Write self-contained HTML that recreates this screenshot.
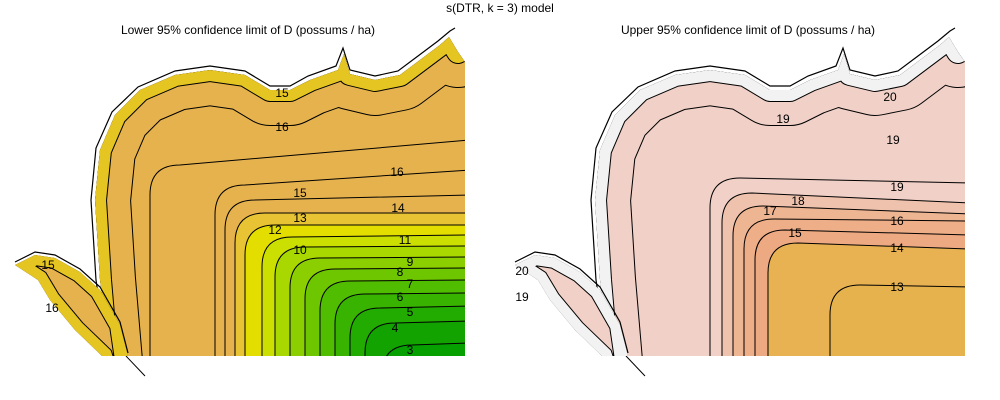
<!DOCTYPE html>
<html><head><meta charset="utf-8"><style>
html,body{margin:0;padding:0;background:#fff;}
svg{display:block;font-family:"Liberation Sans",sans-serif;}
</style></head><body>
<svg id="chart" width="1000" height="400" viewBox="0 0 1000 400" xmlns="http://www.w3.org/2000/svg">
<text x="500" y="12" font-size="12" text-anchor="middle" fill="#000">s(DTR, k = 3) model</text>
<text x="248" y="34" font-size="12" text-anchor="middle" fill="#000">Lower 95% confidence limit of D (possums / ha)</text>
<text x="748" y="34" font-size="12" text-anchor="middle" fill="#000">Upper 95% confidence limit of D (possums / ha)</text>
<g id="left"></g>
<g id="right"></g>
</svg>
<script>
// Left panel contour levels (L-shaped interior contours)
const leftLevels = [16, 15, 14, 13, 12, 11, 10, 9, 8, 7, 6, 5, 4, 3];
const leftBandColors = ["#e6b24e","#e6b24e","#e6b24e","#e8c435","#e4dd00","#cbe000","#a8d800","#8ccf00","#6ec600","#50bd00","#38b400","#22ab00","#12a300","#06a000"];
// contour geometry descriptors: [cornerX, cornerY, rightY]
const leftShape = [[150,165,140],[215,185,170],[225,200,195],[235,213,213],[245,225,225],[262,237,235],[275,247,246],[290,258,257],[305,269,268],[320,281,280],[335,294,293],[350,308,306],[365,323,321],[382,345,343]];
const leftLabelText = ["15","16","16","15","14","13","12","11","10","9","8","7","6","5","4","3"];
const leftLabelPos = [[282,93],[282,127],[397,172],[300,193],[398,208],[300,218],[275,230],[405,240],[300,250],[410,262],[400,272],[410,284],[400,297],[410,312],[395,328],[410,350],[48,265],[52,308]];
// Right panel
const rightLevels = [19, 18, 17, 16, 15, 14, 13];
const rightBandColors = ["#f0d0c7","#efc2ad","#eeb592","#eeae88","#eda982","#e8b252","#e6b24e"];
const rightShape = [[710,178,183],[722,193,203],[733,206,214],[744,219,221],[755,230,235],[768,243,249],[830,285,287]];
const rightLabelText = ["20","19","19","19","18","17","16","15","14","13"];
const rightLabelPos = [[890,97],[783,119],[893,140],[897,187],[798,201],[770,211],[897,221],[795,233],[897,248],[897,287],[522,271],[522,297]];

const NS="http://www.w3.org/2000/svg";
function mk(tag,attrs,parent){const e=document.createElementNS(NS,tag);for(const k in attrs)e.setAttribute(k,attrs[k]);parent.appendChild(e);return e;}
const outline=[[110,356],[100,280],[95,200],[100,150],[115,115],[140,90],[175,75],[210,70],[245,75],[270,90],[290,90],[310,80],[338,70],[344,54],[350,74],[375,80],[400,75],[420,60],[440,45],[449,37],[458,52],[465,62],[465,356]];
const edge=[[112,420],[100,280],[95,200],[100,150],[115,115],[140,90],[175,75],[210,70],[245,75],[270,90],[290,90],[310,80],[338,70],[344,54],[350,74],[375,80],[400,75],[420,60],[440,45],[449,37],[458,52],[475,40]];
const bord=[[107,356],[96,280],[91,200],[96,148],[112,112],[138,87],[175,71],[210,66],[245,71],[270,86],[290,86],[308,76],[336,66],[343,48],[350,70],[375,76],[398,71],[418,56],[438,41],[450,31],[455,28]];
const pen=[[15,265],[35,255],[55,258],[80,272],[100,290],[120,325],[128,356],[102,356],[75,330],[50,300],[38,280]];
const penEdge=[[128,380],[120,325],[100,290],[80,272],[55,258],[35,255],[15,265],[38,280],[50,300],[75,330],[102,356],[110,380]];
function pts(a,dx){return a.map(p=>(p[0]+dx)+","+p[1]).join(" ");}
function panel(g,dx,id,outerCol,fillCol,ringCol,shape,colors,labText,labPos,penFill){
  const defs=mk("defs",{},g);
  const cp=mk("clipPath",{id:"c"+id},defs);
  mk("polygon",{points:pts(outline,dx)},cp);
  const cp2=mk("clipPath",{id:"p"+id},defs);
  mk("polygon",{points:pts(pen,dx)},cp2);
  const main=mk("g",{"clip-path":"url(#c"+id+")"},g);
  
  
  mk("polygon",{points:pts(outline,dx),fill:fillCol},main);
  mk("polyline",{points:pts(edge,dx),fill:"none",stroke:"#000","stroke-width":72,"stroke-linejoin":"round"},main);
  mk("polyline",{points:pts(edge,dx),fill:"none",stroke:ringCol,"stroke-width":70,"stroke-linejoin":"round"},main);
  mk("polyline",{points:pts(edge,dx),fill:"none",stroke:"#000","stroke-width":24,"stroke-linejoin":"round"},main);
  mk("polyline",{points:pts(edge,dx),fill:"none",stroke:outerCol,"stroke-width":22,"stroke-linejoin":"round"},main);
  shape.forEach((s,i)=>{
    const cx=s[0],cy=s[1],ry=s[2],r=30;
    const d=`M${cx},400 L${cx},${cy+r} Q${cx},${cy} ${cx+r},${cy} L${470+dx},${ry} L${480+dx},${ry} L${480+dx},400 Z`;
    const band=mk("path",{d:d,fill:colors[i],stroke:"#000","stroke-width":1},main);
    
    
  });
  const b=mk("polyline",{points:pts(bord,dx),fill:"none",stroke:"#000","stroke-width":1.2},g);
  
  
  mk("line",{x1:126+dx,y1:356,x2:145+dx,y2:376,stroke:"#000"},g);
  const pg=mk("g",{"clip-path":"url(#p"+id+")"},g);
  
  
  mk("polygon",{points:pts(pen,dx),fill:penFill},pg);
  mk("polyline",{points:pts(penEdge,dx),fill:"none",stroke:"#000","stroke-width":22},pg);
  mk("polyline",{points:pts(penEdge,dx),fill:"none",stroke:outerCol,"stroke-width":20},pg);
  mk("polyline",{points:pts(pen.slice(0,7),dx),fill:"none",stroke:"#000","stroke-width":1.2,transform:"translate(0,-3)"},g);
  labText.forEach((t,i)=>{
    const p=labPos[i];
    const tx=mk("text",{x:p[0],y:p[1]+4,"font-size":12,"text-anchor":"middle",fill:"#000"},g);
    tx.textContent=t;
    
    
  });
}
const leftLabelsAll=leftLabelText.concat(["15","16"]);
panel(document.getElementById("left"),0,"L","#e5c521","#e6b24e","#e6b24e",leftShape,leftBandColors,leftLabelsAll,leftLabelPos,"#e6b24e");
const rightLabelsAll=rightLabelText.concat(["20","19"]);
panel(document.getElementById("right"),500,"R","#f2f2f2","#f0d0c7","#f0d0c7",rightShape,rightBandColors,rightLabelsAll,rightLabelPos,"#f0d0c7");
</script>
</body></html>
